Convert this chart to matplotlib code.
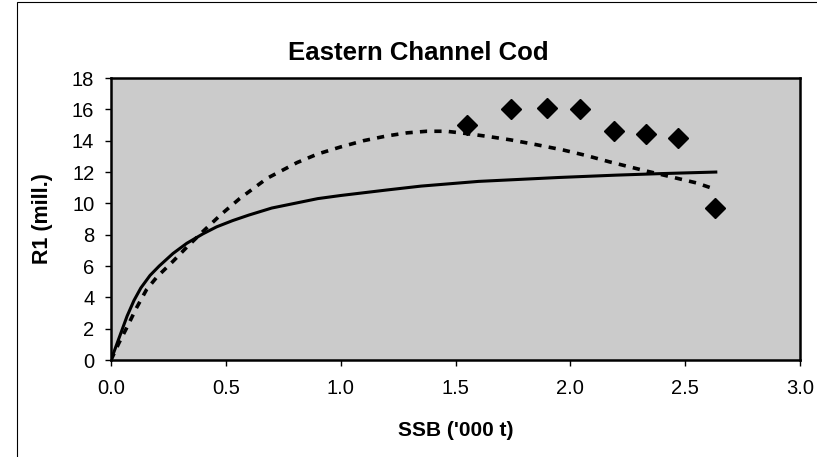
import matplotlib
matplotlib.use("Agg")
import matplotlib.pyplot as plt
from matplotlib.patches import Rectangle

plt.rcParams['font.family'] = ['Liberation Sans', 'DejaVu Sans']

# observed recruitment (diamonds)
ssb_obs = [1.55, 1.74, 1.90, 2.04, 2.19, 2.33, 2.47, 2.63]
rec_obs = [15.0, 16.0, 16.1, 16.0, 14.6, 14.4, 14.2, 9.7]

# solid curve
ssb_solid = [0, 0.02, 0.04, 0.07, 0.1, 0.13, 0.17, 0.21, 0.27, 0.33, 0.4, 0.46, 0.53,
             0.6, 0.7, 0.8, 0.9, 1.0, 1.2, 1.35, 1.6, 1.95, 2.2, 2.4, 2.64]
rec_solid = [0, 0.8, 1.6, 2.8, 3.8, 4.6, 5.4, 6.0, 6.8, 7.45, 8.05, 8.5, 8.9,
             9.25, 9.7, 10.0, 10.3, 10.5, 10.85, 11.1, 11.4, 11.65, 11.8, 11.9, 12.0]

# dashed curve
ssb_dash = [0, 0.035, 0.07, 0.11, 0.155, 0.2, 0.27, 0.33, 0.4, 0.48, 0.56, 0.68, 0.81,
            0.9, 1.0, 1.1, 1.2, 1.29, 1.375, 1.46, 1.55, 1.65, 1.74, 1.85, 1.97, 2.07,
            2.17, 2.32, 2.45, 2.55, 2.63]
rec_dash = [0, 1.1, 2.1, 3.3, 4.5, 5.3, 6.3, 7.2, 8.2, 9.3, 10.3, 11.6, 12.6,
            13.15, 13.6, 14.0, 14.3, 14.5, 14.6, 14.6, 14.45, 14.25, 14.05, 13.75, 13.4, 13.05,
            12.65, 12.1, 11.65, 11.3, 10.9]

xticks = [0.0, 0.5, 1.0, 1.5, 2.0, 2.5, 3.0]
yticks = list(range(0, 19, 2))

fig = plt.figure(figsize=(8.17, 4.57), dpi=100)
ax = fig.add_axes([111/817, 1 - 360/457, 689/817, 282/457])
ax.set_facecolor('#cbcbcb')

ax.plot(ssb_solid, rec_solid, color='black', lw=2.2, solid_capstyle='butt')
ax.plot(ssb_dash, rec_dash, color='black', lw=2.6, dashes=(2.0, 2.0))
ax.plot(ssb_obs, rec_obs, linestyle='none', marker='D', color='black', markersize=10.5)

ax.set_xlim(0, 3.0)
ax.set_ylim(0, 18)
ax.set_xticks(xticks)
ax.set_xticklabels([f'{v:.1f}' for v in xticks])
ax.set_yticks(yticks)
ax.tick_params(axis='both', direction='out', length=4, width=1, labelsize=14.5, colors='black')
ax.tick_params(axis='x', pad=10)
ax.tick_params(axis='y', pad=8)
for sp in ax.spines.values():
    sp.set_linewidth(1.8)
    sp.set_color('black')

ax.set_xlabel("SSB ('000 t)", fontsize=15, fontweight='bold')
ax.set_ylabel("R1 (mill.)", fontsize=15.5, fontweight='bold')
ax.xaxis.set_label_coords(0.5, -0.216)
ax.yaxis.set_label_coords(-0.084, 0.5)

fig.text(418/817, 1 - 60/457, 'Eastern Channel Cod', ha='center', va='baseline',
         fontsize=18.5, fontweight='bold')

# chart area border
fig.patches.append(Rectangle((17/817, -0.1), 1.0, 1.1 - 2/457, transform=fig.transFigure,
                             fill=False, edgecolor='black', lw=0.8))

fig.savefig('out.png', dpi=100)
